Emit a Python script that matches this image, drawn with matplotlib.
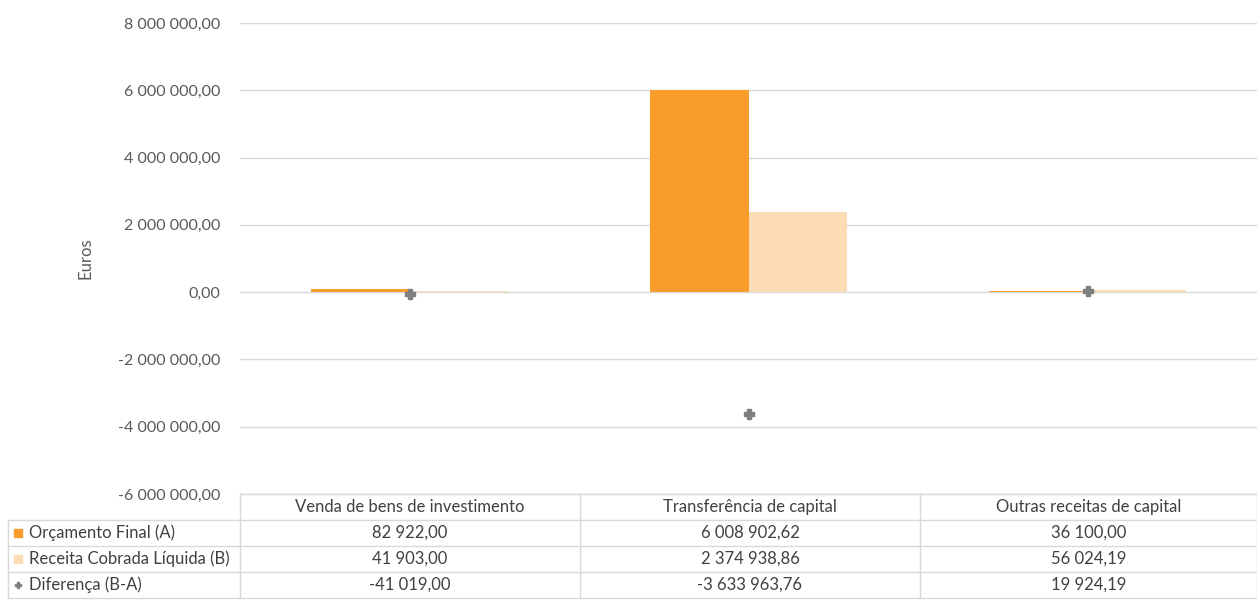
import numpy as np
import matplotlib
matplotlib.use("Agg")
import matplotlib.pyplot as plt
from matplotlib.lines import Line2D
from matplotlib.ticker import FuncFormatter

plt.rcParams['font.family'] = ['Lato', 'DejaVu Sans']

categories = ["Venda de bens de investimento", "Transferência de capital", "Outras receitas de capital"]
series_names = ["Orçamento Final (A)", "Receita Cobrada Líquida (B)", "Diferença (B-A)"]
orcamento = [82922.00, 6008902.62, 36100.00]
receita = [41903.00, 2374938.86, 56024.19]
diferenca = [-41019.00, -3633963.76, 19924.19]

c_orc = "#F89C2C"
c_rec = "#FCDCB4"
c_dif = "#7F7F7F"
c_grid = "#D9D9D9"
c_text = "#595959"
c_table = "#404040"


def fmt_pt(v, pos=None):
    s = f"{abs(v):,.2f}".replace(",", " ").replace(".", ",")
    return ("-" if v < 0 else "") + s


W, H = 1257, 605
fig = plt.figure(figsize=(W / 100, H / 100), dpi=100)


def fx(px):
    return px / W


def fy(py):
    return 1 - py / H


ax_l, ax_r, ax_t, ax_b = 240, 1257, 23, 494
ax = fig.add_axes([fx(ax_l), fy(ax_b), fx(ax_r - ax_l), fy(ax_t) - fy(ax_b)])

x = np.arange(len(categories))
bw = 0.29
ax.bar(x - bw / 2, orcamento, bw, color=c_orc, zorder=3)
ax.bar(x + bw / 2, receita, bw, color=c_rec, zorder=3)
ax.plot(x, diferenca, linestyle="none", marker="P", markersize=7,
        color=c_dif, markeredgecolor=c_dif, zorder=4)

ax.set_xlim(-0.5, len(categories) - 0.5)
ax.set_ylim(-6e6, 8e6)
ax.set_yticks(np.arange(-6e6, 8e6 + 1, 2e6))
ax.yaxis.set_major_formatter(FuncFormatter(fmt_pt))
ax.grid(axis="y", color=c_grid, linewidth=1, zorder=0)
ax.tick_params(axis="y", length=0, pad=14, labelsize=11.5, labelcolor=c_text)
ax.set_xticks([])
for sp in ax.spines.values():
    sp.set_visible(False)
ax.set_ylabel("Euros", fontsize=12, color=c_text, labelpad=18)

# data table under the axis
col_edges = [ax_l, 580, 920, ax_r]
row_edges = [494, 520, 546, 572, 598]
lab_l = 8


def hline(x0, x1, y):
    fig.add_artist(Line2D([fx(x0), fx(x1)], [fy(y), fy(y)], color=c_grid, lw=1))


def vline(xp, y0, y1):
    fig.add_artist(Line2D([fx(xp), fx(xp)], [fy(y0), fy(y1)], color=c_grid, lw=1))


hline(ax_l, ax_r, row_edges[0])
for y in row_edges[1:]:
    hline(lab_l, ax_r, y)
for xp in col_edges:
    vline(xp, row_edges[0], row_edges[-1])
vline(lab_l, row_edges[1], row_edges[-1])

for j, cat in enumerate(categories):
    cx = (col_edges[j] + col_edges[j + 1]) / 2
    cy = (row_edges[0] + row_edges[1]) / 2
    fig.text(fx(cx), fy(cy), cat, ha="center", va="center", fontsize=12, color=c_table)

rows = [orcamento, receita, diferenca]
for i, (name, vals) in enumerate(zip(series_names, rows)):
    cy = (row_edges[i + 1] + row_edges[i + 2]) / 2
    if i < 2:
        fig.add_artist(Line2D([fx(lab_l + 10)], [fy(cy)], marker="s", markersize=6,
                              color=[c_orc, c_rec][i], linestyle="none"))
    else:
        fig.add_artist(Line2D([fx(lab_l + 10)], [fy(cy)], marker="P", markersize=5,
                              color=c_dif, linestyle="none"))
    fig.text(fx(lab_l + 21), fy(cy), name, ha="left", va="center", fontsize=12, color=c_table)
    for j, v in enumerate(vals):
        cx = (col_edges[j] + col_edges[j + 1]) / 2
        fig.text(fx(cx), fy(cy), fmt_pt(v), ha="center", va="center", fontsize=12, color=c_table)

fig.savefig("out.png", dpi=100)
